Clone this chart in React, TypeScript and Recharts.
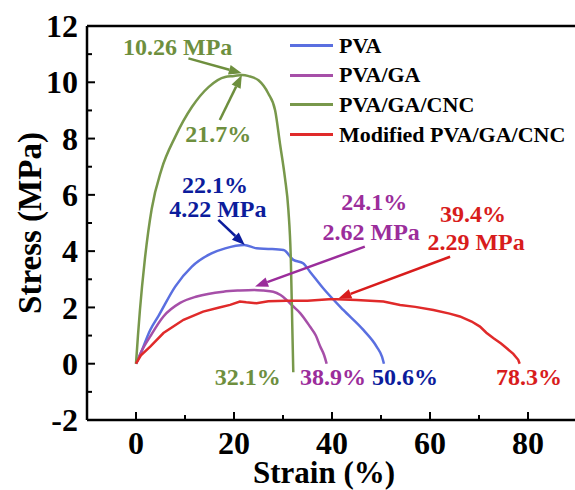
import { Legend, Line, LineChart, ReferenceDot, ReferenceLine, XAxis, YAxis } from "recharts";

const SERIF = "Liberation Serif";

// PVA
const pvaStrain = [0, 0.8, 2.9, 4.6, 8, 11.4, 15.4, 18.2, 22.1, 24.6, 27, 30.1, 32.1, 34.1, 35.5, 38.2, 42.3, 46.4, 49.1, 50.2, 50.6];
const pvaStress = [0, 0.3, 1.2, 1.7, 2.74, 3.45, 3.92, 4.1, 4.22, 4.1, 4.08, 4.04, 3.69, 3.57, 3.27, 2.68, 1.91, 1.2, 0.61, 0.25, 0];

// PVA/GA
const gaStrain = [0, 1, 2.9, 5.6, 9, 12.4, 17.8, 21, 24.1, 26, 28, 29.5, 30.7, 32, 33.5, 35.5, 36.7, 37.6, 38.4, 38.9];
const gaStress = [0, 0.4, 0.97, 1.68, 2.16, 2.39, 2.56, 2.6, 2.62, 2.6, 2.56, 2.44, 2.27, 2.05, 1.8, 1.32, 1.0, 0.61, 0.3, 0];

// PVA/GA/CNC
const cncStrain = [0, 0.4, 0.8, 1.8, 3.2, 5.2, 8, 11.4, 14.8, 18.2, 20, 21.7, 23, 25, 27, 28.4, 29.4, 30.4, 31.1, 31.6, 31.9, 32.1];
const cncStress = [0, 1.0, 1.9, 3.7, 5.5, 6.9, 8.06, 9.12, 9.83, 10.19, 10.22, 10.26, 10.22, 10.07, 9.6, 9.0, 7.8, 6.6, 5.46, 3.7, 1.3, -0.3];

// Modified PVA/GA/CNC
const modStrain = [0, 1, 2.9, 5.6, 9.7, 13.7, 17, 19.2, 21.2, 22.5, 24.6, 27, 30.7, 35, 39.4, 41, 45, 50.5, 53.9, 57, 60.7, 64, 66.1, 68.5, 70.2, 71.5, 72.9, 74.5, 75.6, 77, 78, 78.3];
const modStress = [0, 0.3, 0.61, 1.09, 1.56, 1.85, 2.0, 2.09, 2.21, 2.18, 2.15, 2.22, 2.24, 2.24, 2.29, 2.29, 2.26, 2.21, 2.09, 2.02, 1.91, 1.78, 1.68, 1.5, 1.32, 1.1, 0.91, 0.72, 0.56, 0.35, 0.14, 0];

const xTicks = [-10, 0, 10, 20, 30, 40, 50, 60, 70, 80, 90];
const xLabels = [0, 20, 40, 60, 80];
const yTicks = [-2, -1, 0, 1, 2, 3, 4, 5, 6, 7, 8, 9, 10, 11, 12];
const yLabels = [-2, 0, 2, 4, 6, 8, 10, 12];

const seriesNames = ["PVA", "PVA/GA", "PVA/GA/CNC", "Modified PVA/GA/CNC"];
const seriesColors = ["#5a6fe0", "#a64fa8", "#78984b", "#e02a2a"];

// annotation texts and where they sit (strain, stress)
const noteTexts = ["10.26 MPa", "21.7%", "22.1%", "4.22 MPa", "24.1%", "2.62 MPa", "39.4%", "2.29 MPa", "32.1%", "38.9%", "50.6%", "78.3%"];
const noteX = [8.5, 16.8, 16.1, 16.7, 48.6, 48.0, 68.8, 69.4, 22.8, 40.2, 54.9, 80.2];
const noteY = [10.97, 7.89, 6.06, 5.22, 5.46, 4.4, 5.04, 4.04, -0.76, -0.76, -0.76, -0.76];
const noteColors = ["#6e8f3e", "#6e8f3e", "#0c1c9c", "#0c1c9c", "#9b2d9b", "#9b2d9b", "#d81c1c", "#d81c1c", "#6e8f3e", "#9b2d9b", "#0c1c9c", "#d81c1c"];

// arrows: from -> to
const arrowFrom = [[10.7, 10.85], [17.1, 8.66], [16.8, 5.11], [46.7, 4.16], [64.1, 3.8]];
const arrowTo = [[21.6, 10.32], [21.6, 10.26], [22.2, 4.22], [24.3, 2.74], [41.3, 2.32]];
const arrowColors = ["#6e8f3e", "#6e8f3e", "#0c1c9c", "#9b2d9b", "#d81c1c"];

const zip = (xs: number[], ys: number[]) => xs.map((x, i) => ({ x, y: ys[i] }));
const seriesData = [
  zip(pvaStrain, pvaStress),
  zip(gaStrain, gaStress),
  zip(cncStrain, cncStress),
  zip(modStrain, modStress),
];

function XTick(props: any) {
  const { x, y, payload } = props;
  const v = payload.value;
  if (v === -10 || v === 90) return null;
  const major = xLabels.includes(v);
  return (
    <g>
      <line x1={x} y1={y} x2={x} y2={y - (major ? 8 : 5)} stroke="#000" strokeWidth={2} />
      {major && (
        <text x={x} y={y + 34} textAnchor="middle" fontFamily={SERIF} fontWeight="bold" fontSize={32} fill="#000">
          {v}
        </text>
      )}
    </g>
  );
}

function YTick(props: any) {
  const { x, y, payload } = props;
  const v = payload.value;
  if (v === 12 || v === -2) {
    return (
      <text x={x - 9} y={y} dy="0.35em" textAnchor="end" fontFamily={SERIF} fontWeight="bold" fontSize={32} fill="#000">
        {v}
      </text>
    );
  }
  const major = yLabels.includes(v);
  return (
    <g>
      <line x1={x} y1={y} x2={x + (major ? 8 : 5)} y2={y} stroke="#000" strokeWidth={2} />
      {major && (
        <text x={x - 9} y={y} dy="0.35em" textAnchor="end" fontFamily={SERIF} fontWeight="bold" fontSize={32} fill="#000">
          {v}
        </text>
      )}
    </g>
  );
}

const XTitle = () => (
  <text x={324} y={483} textAnchor="middle" fontFamily={SERIF} fontWeight="bold" fontSize={31} fill="#000">
    Strain (%)
  </text>
);

const YTitle = () => (
  <text x={41} y={223} transform="rotate(-90 41 223)" textAnchor="middle" fontFamily={SERIF} fontWeight="bold" fontSize={33} fill="#000">
    Stress (MPa)
  </text>
);

const arrowShape = (color: string) => (props: any) => {
  const { x1, y1, x2, y2 } = props;
  const ang = Math.atan2(y2 - y1, x2 - x1);
  const len = 13;
  const half = 5;
  const bx = x2 - len * Math.cos(ang);
  const by = y2 - len * Math.sin(ang);
  const px = -Math.sin(ang) * half;
  const py = Math.cos(ang) * half;
  return (
    <g>
      <line x1={x1} y1={y1} x2={bx} y2={by} stroke={color} strokeWidth={2.5} />
      <polygon points={`${x2},${y2} ${bx + px},${by + py} ${bx - px},${by - py}`} fill={color} />
    </g>
  );
};

const noteShape = (text: string, color: string) => (props: any) => (
  <text x={props.cx} y={props.cy} textAnchor="middle" fontFamily={SERIF} fontWeight="bold" fontSize={24} fill={color}>
    {text}
  </text>
);

function LegendBox() {
  return (
    <div style={{ fontFamily: SERIF, fontWeight: "bold", fontSize: 22 }}>
      {seriesNames.map((name, i) => (
        <div key={name} style={{ display: "flex", alignItems: "center", height: 29.6, whiteSpace: "nowrap" }}>
          <span style={{ display: "inline-block", width: 43, height: 3, background: seriesColors[i], marginRight: 6 }} />
          <span style={{ color: "#000" }}>{name}</span>
        </div>
      ))}
    </div>
  );
}

export default function App() {
  return (
    <div style={{ position: "absolute", left: 0, top: 0, width: 575, height: 490, overflow: "hidden", background: "#fff" }}>
      <LineChart width={600} height={490} margin={{ top: 26, right: 23, bottom: 40, left: 27 }}>
        <XAxis
          dataKey="x"
          type="number"
          domain={[-10, 90]}
          ticks={xTicks}
          interval={0}
          allowDataOverflow
          height={30}
          tickSize={0}
          tickMargin={0}
          tickLine={false}
          tick={<XTick />}
          axisLine={{ stroke: "#000", strokeWidth: 2.5 }}
          label={<XTitle />}
        />
        <YAxis
          type="number"
          domain={[-2, 12]}
          ticks={yTicks}
          interval={0}
          allowDataOverflow
          width={60}
          tickSize={0}
          tickMargin={0}
          tickLine={false}
          tick={<YTick />}
          axisLine={{ stroke: "#000", strokeWidth: 2.5 }}
          label={<YTitle />}
        />
        <ReferenceLine y={12} stroke="#000" strokeWidth={2.5} />
        <ReferenceLine x={90} stroke="#000" strokeWidth={2.5} />
        {seriesData.map((d, i) => (
          <Line
            key={seriesNames[i]}
            data={d}
            dataKey="y"
            name={seriesNames[i]}
            type={i === 3 ? "linear" : "monotone"}
            stroke={seriesColors[i]}
            strokeWidth={2.5}
            dot={false}
            isAnimationActive={false}
          />
        ))}
        {arrowFrom.map((from, i) => (
          <ReferenceLine
            key={"arrow" + i}
            segment={[
              { x: from[0], y: from[1] },
              { x: arrowTo[i][0], y: arrowTo[i][1] },
            ]}
            shape={arrowShape(arrowColors[i])}
          />
        ))}
        {noteTexts.map((t, i) => (
          <ReferenceDot key={"note" + i} x={noteX[i]} y={noteY[i]} r={0} shape={noteShape(t, noteColors[i])} />
        ))}
        <Legend
          layout="vertical"
          align="center"
          verticalAlign="middle"
          content={<LegendBox />}
          wrapperStyle={{ position: "absolute", left: 290, top: 31, width: 290 }}
        />
      </LineChart>
    </div>
  );
}
